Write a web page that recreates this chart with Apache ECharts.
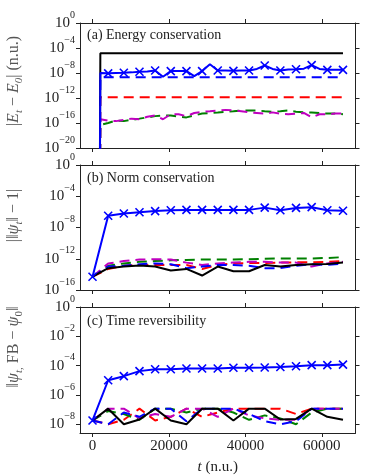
<!DOCTYPE html>
<html>
<head>
<meta charset="utf-8">
<script src="https://cdn.jsdelivr.net/npm/echarts@6/dist/echarts.min.js"></script>
<style>
  html, body { margin: 0; padding: 0; background: #fff; }
  #main { width: 374px; height: 475px; }
</style>
</head>
<body>
<div id="main"></div>
<script>
// time axis (n.u.)
var tEnergy = [0, 2048, 4096, 6144, 8192, 10240, 12288, 14336, 16384, 18432, 20480, 22528, 24576,
  26624, 28672, 30720, 32768, 34816, 36864, 38912, 40960, 43008, 45056, 47104, 49152, 51200,
  53248, 55296, 57344, 59392, 61440, 63488, 65536];
var tSteps = [0, 4096, 8192, 12288, 16384, 20480, 24576, 28672, 32768, 36864, 40960, 45056,
  49152, 53248, 57344, 61440, 65536];
var xTicks = [0, 20000, 40000, 60000];

// (a) energy conservation |E_t - E_0|
var energyBlack = [0, 1.4e-5, 1.4e-5, 1.4e-5, 1.4e-5, 1.4e-5, 1.4e-5, 1.4e-5, 1.4e-5, 1.4e-5, 1.4e-5,
  1.4e-5, 1.4e-5, 1.4e-5, 1.4e-5, 1.4e-5, 1.4e-5, 1.4e-5, 1.4e-5, 1.4e-5, 1.4e-5, 1.4e-5, 1.4e-5,
  1.4e-5, 1.4e-5, 1.4e-5, 1.4e-5, 1.4e-5, 1.4e-5, 1.4e-5, 1.4e-5, 1.4e-5, 1.4e-5];
var energyBlueX = [0, 1.0e-8, 8.9e-9, 1.0e-8, 1.12e-8, 1.26e-8, 1.58e-8, 1.78e-8, 2.5e-8, 2.5e-9,
  2.0e-8, 2.0e-8, 2.0e-8, 3.2e-9, 2.0e-8, 2.5e-7, 2.5e-8, 2.5e-8, 2.2e-8, 2.5e-8, 2.5e-8, 4.5e-8,
  1.6e-7, 4.5e-8, 2.5e-8, 3.5e-8, 4.0e-8, 5.0e-8, 1.8e-7, 4.5e-8, 3.2e-8, 3.2e-8, 3.2e-8];
var energyBlueDash = [0, 2.0e-9, 2.0e-9, 2.0e-9, 2.0e-9, 2.0e-9, 2.0e-9, 2.0e-9, 2.0e-9, 2.0e-9,
  2.0e-9, 2.0e-9, 2.0e-9, 2.0e-9, 2.0e-9, 2.0e-9, 2.0e-9, 2.0e-9, 2.0e-9, 2.0e-9, 2.0e-9, 2.0e-9,
  2.0e-9, 2.0e-9, 2.0e-9, 2.0e-9, 2.0e-9, 2.0e-9, 2.0e-9, 2.0e-9, 2.0e-9, 2.0e-9, 2.0e-9];
var energyRed = [0, 1.26e-12, 1.26e-12, 1.26e-12, 1.26e-12, 1.26e-12, 1.26e-12, 1.26e-12, 1.26e-12,
  1.26e-12, 1.26e-12, 1.26e-12, 1.26e-12, 1.26e-12, 1.26e-12, 1.26e-12, 1.26e-12, 1.26e-12,
  1.26e-12, 1.26e-12, 1.26e-12, 1.26e-12, 1.26e-12, 1.26e-12, 1.26e-12, 1.26e-12, 1.26e-12,
  1.26e-12, 1.26e-12, 1.26e-12, 1.26e-12, 1.26e-12, 1.26e-12];
var energyGreen = [0, 5.0e-17, 1.0e-16, 2.5e-16, 2.0e-16, 3.2e-16, 5.0e-16, 7.9e-16, 1.26e-15,
  1.6e-15, 1.6e-15, 1.0e-15, 7.9e-16, 1.6e-15, 3.2e-15, 4.0e-15, 5.0e-15, 6.3e-15, 7.9e-15, 1.0e-14,
  1.0e-14, 1.0e-14, 7.9e-15, 6.3e-15, 7.9e-15, 1.0e-14, 6.3e-15, 5.0e-15, 5.0e-15, 4.0e-15,
  3.2e-15, 3.2e-15, 2.5e-15];
var energyMagenta = [0, 4.0e-16, 2.5e-16, 2.0e-16, 3.2e-16, 5.0e-16, 4.0e-16, 1.0e-15, 1.6e-15,
  4.0e-16, 2.5e-15, 2.5e-15, 1.26e-15, 4.0e-15, 6.3e-15, 7.9e-15, 1.0e-14, 1.26e-14, 1.0e-14,
  7.9e-15, 5.0e-15, 4.0e-15, 3.2e-15, 5.0e-15, 3.2e-15, 2.5e-15, 3.2e-15, 4.0e-15, 7.9e-16,
  2.5e-15, 2.5e-15, 3.2e-15, 3.2e-15];

// (b) norm conservation | ||psi_t|| - 1 |
var normBlueX = [5.0e-15, 3.2e-7, 6.3e-7, 8.9e-7, 1.26e-6, 1.6e-6, 1.8e-6, 1.8e-6, 1.8e-6, 1.8e-6,
  1.8e-6, 3.5e-6, 1.6e-6, 3.2e-6, 4.0e-6, 1.6e-6, 1.4e-6];
var normBlack = [5.0e-15, 6.3e-14, 1.0e-13, 1.4e-13, 1.0e-13, 3.2e-14, 5.0e-14, 7.1e-15, 1.0e-13,
  2.5e-14, 2.5e-14, 1.6e-13, 1.0e-13, 1.6e-13, 2.0e-13, 2.2e-13, 3.2e-13];
var normGreen = [5.0e-15, 1.26e-13, 2.5e-13, 4.0e-13, 5.0e-13, 6.3e-13, 7.1e-13, 7.9e-13, 7.9e-13,
  7.9e-13, 8.9e-13, 1.0e-12, 1.1e-12, 1.1e-12, 1.1e-12, 1.26e-12, 1.6e-12];
var normMagenta = [5.0e-15, 2.5e-13, 5.0e-13, 7.9e-13, 8.9e-13, 7.9e-13, 3.2e-13, 1.6e-13, 2.5e-13,
  3.2e-13, 4.0e-13, 4.0e-13, 3.2e-13, 3.2e-13, 1.0e-13, 2.5e-13, 4.0e-13];
var normRed = [5.0e-15, 5.0e-14, 1.26e-13, 1.6e-13, 1.6e-13, 1.6e-13, 1.6e-13, 5.0e-14, 1.6e-13,
  2.5e-13, 2.8e-13, 2.8e-13, 3.2e-13, 3.5e-13, 3.5e-13, 4.0e-13, 5.0e-13];
var normBlueDash = [5.0e-15, 1.0e-13, 1.26e-13, 2.0e-13, 2.5e-13, 2.0e-13, 6.3e-14, 1.0e-13, 1.6e-13,
  1.6e-13, 1.26e-13, 6.3e-14, 6.3e-14, 1.26e-13, 2.0e-13, 1.6e-13, 2.5e-13];

// (c) time reversibility ||psi_t,FB - psi_0||
var revBlueX = [1.8e-8, 1.0e-5, 1.9e-5, 4.2e-5, 5.6e-5, 5.6e-5, 6.3e-5, 6.3e-5, 6.3e-5, 7.1e-5,
  7.1e-5, 7.4e-5, 8.1e-5, 9.1e-5, 1.07e-4, 1.07e-4, 1.17e-4];
var revBlack = [1.8e-8, 1.15e-7, 1.0e-8, 2.1e-8, 1.15e-7, 1.8e-8, 1.0e-8, 1.15e-7, 1.15e-7, 1.8e-8,
  1.15e-7, 1.15e-7, 2.1e-8, 2.3e-8, 1.15e-7, 3.2e-8, 2.0e-8];
var revRed = [1.8e-8, 1.0e-8, 2.0e-8, 1.15e-7, 1.8e-8, 3.2e-8, 1.15e-7, 3.2e-8, 6.3e-8, 1.15e-7,
  1.15e-7, 1.15e-7, 1.15e-7, 5.0e-8, 1.15e-7, 1.15e-7, 1.15e-7];
var revGreen = [1.8e-8, 7.9e-8, 5.0e-8, 2.0e-8, 1.15e-7, 1.15e-7, 6.3e-8, 1.15e-7, 1.15e-7, 6.3e-8,
  2.0e-8, 4.0e-8, 2.5e-8, 1.0e-8, 6.3e-8, 1.15e-7, 1.15e-7];
var revMagenta = [1.8e-8, 1.15e-7, 1.15e-7, 2.5e-8, 5.0e-8, 3.2e-8, 1.15e-7, 1.15e-7, 3.2e-8,
  1.15e-7, 4.0e-8, 2.5e-8, 2.0e-8, 2.0e-8, 1.15e-7, 1.15e-7, 1.15e-7];
var revBlueDash = [1.8e-8, 1.0e-8, 6.3e-8, 3.2e-8, 1.15e-7, 1.15e-7, 1.6e-8, 1.15e-7, 1.15e-7,
  1.15e-7, 5.0e-8, 1.6e-8, 1.0e-8, 1.6e-8, 1.15e-7, 1.15e-7, 1.15e-7];

var SERIF = '"Liberation Serif", "DejaVu Serif", serif';
var INK = '#222';
var CROSS = 'path://M0,0L10,10M10,0L0,10';
var DASH = [10, 6];

var myChart = echarts.init(document.getElementById('main'));

// log10 of the values; zero goes far below the frame and gets clipped (like matplotlib)
function pts(ts, vals) {
  return ts.map(function (t, i) {
    return [t, vals[i] > 0 ? Math.log10(vals[i]) : -300];
  });
}

function decadeLabel(v) {
  var e = Math.round(v);
  return '{b|10}{s|' + (e < 0 ? '\u2212' + (-e) : e) + '}';
}

var tickRich = {
  b: { fontFamily: SERIF, fontSize: 15, color: INK, lineHeight: 26, verticalAlign: 'middle' },
  s: { fontFamily: SERIF, fontSize: 10, color: INK, lineHeight: 26, verticalAlign: 'top' }
};
var nameRich = {
  i: { fontFamily: SERIF, fontStyle: 'italic', fontSize: 16, color: '#555', lineHeight: 22, verticalAlign: 'middle' },
  sub: { fontFamily: SERIF, fontStyle: 'italic', fontSize: 11, color: '#555', lineHeight: 22, verticalAlign: 'bottom' },
  subr: { fontFamily: SERIF, fontSize: 11, color: '#555', lineHeight: 22, verticalAlign: 'bottom' }
};

var grids = [
  { left: 80, right: 18.5, top: 23, height: 125 },
  { left: 80, right: 18.5, top: 165, height: 125 },
  { left: 80, right: 18.5, top: 307, height: 126 }
].map(function (g) {
  g.containLabel = false;
  g.outerBoundsMode = 'none';
  return g;
});

var xAxes = [];
var yAxes = [];
[0, 1, 2].forEach(function (g) {
  ['bottom', 'top'].forEach(function (pos) {
    var labelled = g === 2 && pos === 'bottom';
    xAxes.push({
      type: 'value', gridIndex: g, position: pos, min: -3276.8, max: 68812.8,
      axisLine: { onZero: false, lineStyle: { color: INK, width: 1 } },
      axisTick: { length: 4, customValues: xTicks, lineStyle: { color: INK } },
      axisLabel: {
        show: labelled, customValues: xTicks, margin: 6,
        formatter: function (v) { return String(Math.round(v)); },
        fontFamily: SERIF, fontSize: 15, color: INK
      },
      splitLine: { show: false },
      name: labelled ? '{i|t} (n.u.)' : '',
      nameLocation: 'middle', nameGap: 27,
      nameTextStyle: {
        fontFamily: SERIF, fontSize: 15, color: INK,
        rich: { i: { fontFamily: SERIF, fontStyle: 'italic', fontSize: 15, color: INK } }
      }
    });
  });
});

// shift = left padding that moves the rotated name up along the axis
var yCfg = [
  { min: -20, max: 0, ticks: [-20, -16, -12, -8, -4, 0], shift: 9,
    name: '|{i|E}{sub|t} \u2212 {i|E}{sub|0}| (n.u.)' },
  { min: -16, max: 0, ticks: [-16, -12, -8, -4, 0], shift: 24,
    name: '|\u2016{i|\u03c8}{sub|t}\u2016 \u2212 1|' },
  { min: -8.6, max: 0, ticks: [-8, -6, -4, -2, 0], shift: 46,
    name: '\u2016{i|\u03c8}{sub|t,} FB \u2212 {i|\u03c8}{subr|0}\u2016' }
];
yCfg.forEach(function (c, g) {
  ['left', 'right'].forEach(function (pos) {
    var left = pos === 'left';
    yAxes.push({
      type: 'value', gridIndex: g, position: pos, min: c.min, max: c.max,
      axisLine: { onZero: false, lineStyle: { color: INK, width: 1 } },
      axisTick: { length: 4, customValues: c.ticks, lineStyle: { color: INK } },
      axisLabel: {
        show: left, customValues: c.ticks, margin: 5,
        formatter: decadeLabel, rich: tickRich
      },
      splitLine: { show: false },
      name: left ? c.name : '',
      nameLocation: 'middle', nameRotate: 90, nameGap: 55,
      nameTextStyle: {
        fontFamily: SERIF, fontSize: 16, color: '#555', rich: nameRich,
        padding: [0, 0, 0, c.shift]
      }
    });
  });
});

function dashed(g, ts, vals, color) {
  return {
    type: 'line', xAxisIndex: g * 2, yAxisIndex: g * 2, data: pts(ts, vals),
    showSymbol: false, symbol: 'none', animation: false, clip: true,
    lineStyle: { color: color, width: 2, type: DASH }
  };
}
function solid(g, ts, vals, color) {
  return {
    type: 'line', xAxisIndex: g * 2, yAxisIndex: g * 2, data: pts(ts, vals),
    showSymbol: false, symbol: 'none', animation: false, clip: true,
    lineStyle: { color: color, width: 2 }
  };
}
function crossed(g, ts, vals, every) {
  return {
    type: 'line', xAxisIndex: g * 2, yAxisIndex: g * 2, data: pts(ts, vals),
    showAllSymbol: true, animation: false, clip: true,
    symbol: function (v, p) { return p.dataIndex % every === 0 ? CROSS : 'none'; },
    symbolSize: 8,
    itemStyle: { color: '#0000ff', borderColor: '#0000ff', borderWidth: 1.6 },
    lineStyle: { color: '#0000ff', width: 2 }
  };
}

var option = {
  animation: false,
  backgroundColor: '#fff',
  title: [
    { text: '(a) Energy conservation', left: 87, top: 28 },
    { text: '(b) Norm conservation', left: 87, top: 171 },
    { text: '(c) Time reversibility', left: 87, top: 314 }
  ].map(function (t) {
    t.padding = 0;
    t.textStyle = { fontFamily: SERIF, fontSize: 14, fontWeight: 'normal', color: INK };
    return t;
  }),
  grid: grids,
  xAxis: xAxes,
  yAxis: yAxes,
  series: [
    dashed(0, tEnergy, energyRed, '#ff0000'),
    dashed(0, tEnergy, energyGreen, '#008000'),
    dashed(0, tEnergy, energyMagenta, '#bf00bf'),
    dashed(0, tEnergy, energyBlueDash, '#0000ff'),
    solid(0, tEnergy, energyBlack, '#000000'),
    crossed(0, tEnergy, energyBlueX, 2),

    dashed(1, tSteps, normRed, '#ff0000'),
    dashed(1, tSteps, normGreen, '#008000'),
    dashed(1, tSteps, normMagenta, '#bf00bf'),
    dashed(1, tSteps, normBlueDash, '#0000ff'),
    solid(1, tSteps, normBlack, '#000000'),
    crossed(1, tSteps, normBlueX, 1),

    dashed(2, tSteps, revRed, '#ff0000'),
    dashed(2, tSteps, revGreen, '#008000'),
    dashed(2, tSteps, revMagenta, '#bf00bf'),
    dashed(2, tSteps, revBlueDash, '#0000ff'),
    solid(2, tSteps, revBlack, '#000000'),
    crossed(2, tSteps, revBlueX, 1)
  ]
};

myChart.setOption(option);
</script>
</body>
</html>
